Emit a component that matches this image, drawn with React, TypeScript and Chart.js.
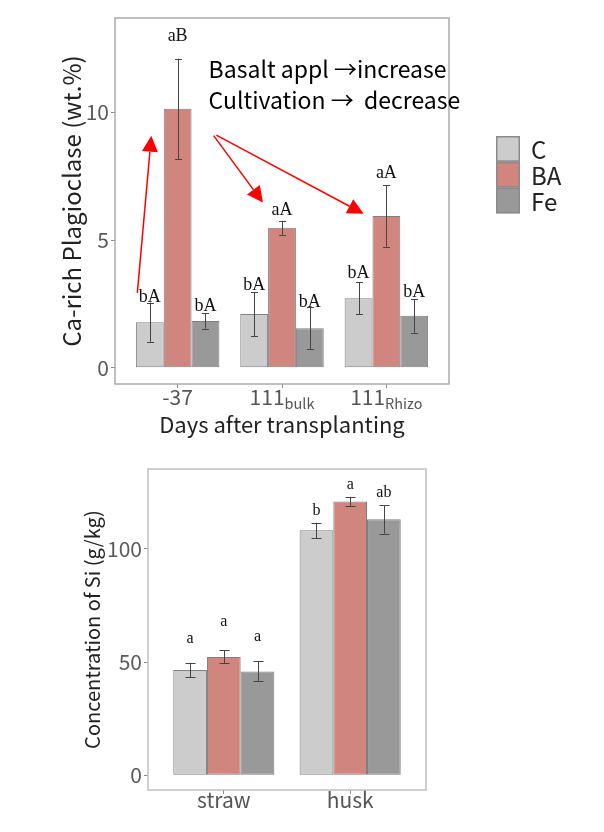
import { useEffect, useRef } from 'react';
import { Chart, registerables } from 'chart.js';
Chart.register(...registerables);

// ---------- shared series ----------
const seriesNames = ['C', 'BA', 'Fe'];
const seriesColors = ['#cccccc', '#d0857f', '#999999'];

// ---------- top chart: Ca-rich plagioclase ----------
const dayLabels = ['-37', '111', '111'];
const daySubs = ['', 'bulk', 'Rhizo'];
const plagC = [1.78, 2.1, 2.72];
const plagBA = [10.14, 5.48, 5.94];
const plagFe = [1.83, 1.54, 2.03];
const plagSeC = [0.77, 0.87, 0.63];
const plagSeBA = [1.97, 0.27, 1.2];
const plagSeFe = [0.3, 0.82, 0.66];
const plagLetC = ['bA', 'bA', 'bA'];
const plagLetBA = ['aB', 'aA', 'aA'];
const plagLetFe = ['bA', 'bA', 'bA'];
const plagLetYC = [2.77, 3.24, 3.7];
const plagLetYBA = [13.0, 6.18, 7.62];
const plagLetYFe = [2.39, 2.56, 2.94];
const plagTicks = [0, 5, 10];

// annotation arrows (data units)
const arrowFromX = [0.614, 1.345, 1.371];
const arrowFromY = [2.93, 9.09, 9.11];
const arrowToX = [0.748, 1.817, 2.782];
const arrowToY = [9.09, 6.47, 6.03];
const noteLines = ['Basalt appl \u2192increase', 'Cultivation \u2192  decrease'];
const noteX = 1.297;
const noteY = [11.71, 10.47];

// ---------- bottom chart: Si concentration ----------
const partLabels = ['straw', 'husk'];
const siC = [46.5, 108.2];
const siBA = [52.3, 120.9];
const siFe = [45.9, 113.1];
const siSeC = [3.2, 3.4];
const siSeBA = [2.9, 2.1];
const siSeFe = [4.4, 6.3];
const siLetC = ['a', 'b'];
const siLetBA = ['a', 'a'];
const siLetFe = ['a', 'ab'];
const siLetYC = [60.5, 116.7];
const siLetYBA = [67.8, 128.5];
const siLetYFe = [61.2, 124.8];
const siTicks = [0, 50, 100];

const JP = "'Noto Sans CJK JP', 'Noto Sans', sans-serif";
const SERIF = "'Liberation Serif', 'DejaVu Serif', serif";

type Spec = {
  labels: string[];
  subs: string[];
  series: number[][];
  ses: number[][];
  letters: string[][];
  letterY: number[][];
  ticks: number[];
  yMin: number;
  yMax: number;
  yAxisWidth: number;
  xAxisHeight: number;
  padding: { left: number; right: number; top: number; bottom: number };
  yTitle: string;
  yTitleSize: number;
  yTitlePad: number;
  xTitle?: string;
  xTitleSize?: number;
  xTitlePad?: number;
  tickSize: number;
  xLabelSize: number;
  xLabelBase: number;
  subSize: number;
  letterSize: number;
  capWidth: number;
  frameColor: string;
  legend?: boolean;
  notes?: boolean;
};

function makeConfig(s: Spec): any {
  const n = s.labels.length;
  const datasets = s.series.map((vals, di) => ({
    label: seriesNames[di],
    data: vals.map((v, i) => ({ x: i + 1, y: v })),
    backgroundColor: seriesColors[di],
    borderColor: '#7f7f7f',
    borderWidth: 1,
    borderSkipped: false,
    categoryPercentage: 0.8,
    barPercentage: 1.0,
  }));

  const decor = {
    id: 'decor',
    afterDatasetsDraw(chart: any) {
      const ctx = chart.ctx as CanvasRenderingContext2D;
      const ys = chart.scales.y;
      const xs = chart.scales.x;
      const area = chart.chartArea;
      ctx.save();
      // error bars
      ctx.strokeStyle = '#444444';
      ctx.lineWidth = 1;
      chart.data.datasets.forEach((ds: any, di: number) => {
        const meta = chart.getDatasetMeta(di);
        meta.data.forEach((bar: any, i: number) => {
          const v = ds.data[i].y;
          const e = s.ses[di][i];
          const x = Math.round(bar.x) + 0.5;
          const y1 = ys.getPixelForValue(v + e);
          const y2 = ys.getPixelForValue(v - e);
          ctx.beginPath();
          ctx.moveTo(x, y1);
          ctx.lineTo(x, y2);
          ctx.moveTo(x - s.capWidth / 2, Math.round(y1) + 0.5);
          ctx.lineTo(x + s.capWidth / 2, Math.round(y1) + 0.5);
          ctx.moveTo(x - s.capWidth / 2, Math.round(y2) + 0.5);
          ctx.lineTo(x + s.capWidth / 2, Math.round(y2) + 0.5);
          ctx.stroke();
        });
      });
      // significance letters
      ctx.fillStyle = '#111';
      ctx.font = `${s.letterSize}px ${SERIF}`;
      ctx.textAlign = 'center';
      ctx.textBaseline = 'middle';
      chart.data.datasets.forEach((_ds: any, di: number) => {
        const meta = chart.getDatasetMeta(di);
        meta.data.forEach((bar: any, i: number) => {
          ctx.fillText(s.letters[di][i], bar.x, ys.getPixelForValue(s.letterY[di][i]));
        });
      });
      // frame
      ctx.strokeStyle = s.frameColor;
      ctx.lineWidth = 1.5;
      ctx.strokeRect(area.left, area.top, area.right - area.left, area.bottom - area.top);
      // x labels with subscripts
      ctx.fillStyle = '#555';
      ctx.textAlign = 'left';
      ctx.textBaseline = 'alphabetic';
      for (let i = 0; i < n; i++) {
        const cx = xs.getPixelForValue(i + 1);
        ctx.font = `${s.xLabelSize}px ${JP}`;
        const w1 = ctx.measureText(s.labels[i]).width;
        ctx.font = `${s.subSize}px ${JP}`;
        const w2 = s.subs[i] ? ctx.measureText(s.subs[i]).width : 0;
        const x0 = cx - (w1 + w2) / 2;
        const base = area.bottom + s.xLabelBase;
        ctx.font = `${s.xLabelSize}px ${JP}`;
        ctx.fillText(s.labels[i], x0, base);
        if (s.subs[i]) {
          ctx.font = `${s.subSize}px ${JP}`;
          ctx.fillText(s.subs[i], x0 + w1, base + 4);
        }
      }
      // annotations
      if (s.notes) {
        ctx.strokeStyle = '#ff0000';
        ctx.fillStyle = '#ff0000';
        ctx.lineWidth = 1.5;
        for (let k = 0; k < arrowFromX.length; k++) {
          const x0 = xs.getPixelForValue(arrowFromX[k]);
          const y0 = ys.getPixelForValue(arrowFromY[k]);
          const x1 = xs.getPixelForValue(arrowToX[k]);
          const y1 = ys.getPixelForValue(arrowToY[k]);
          const ang = Math.atan2(y1 - y0, x1 - x0);
          const hl = 16, hw = 8;
          const bx = x1 - hl * Math.cos(ang);
          const by = y1 - hl * Math.sin(ang);
          ctx.beginPath();
          ctx.moveTo(x0, y0);
          ctx.lineTo(bx, by);
          ctx.stroke();
          ctx.beginPath();
          ctx.moveTo(x1, y1);
          ctx.lineTo(bx + hw * Math.sin(ang), by - hw * Math.cos(ang));
          ctx.lineTo(bx - hw * Math.sin(ang), by + hw * Math.cos(ang));
          ctx.closePath();
          ctx.fill();
        }
        ctx.fillStyle = '#000';
        ctx.font = `23px ${JP}`;
        ctx.textAlign = 'left';
        ctx.textBaseline = 'middle';
        noteLines.forEach((t, k) => {
          ctx.fillText(t, xs.getPixelForValue(noteX), ys.getPixelForValue(noteY[k]));
        });
      }
      // legend
      if (s.legend) {
        const lx = area.right + 47;
        const ly = 136;
        const sh = 25.8;
        seriesNames.forEach((name, k) => {
          ctx.fillStyle = seriesColors[k];
          ctx.fillRect(lx, ly + k * sh, 24, sh);
          ctx.strokeStyle = '#8a8a8a';
          ctx.lineWidth = 1.5;
          ctx.strokeRect(lx + 0.75, ly + k * sh + 0.75, 22.5, sh - 1.5);
          ctx.fillStyle = '#222';
          ctx.font = `24px ${JP}`;
          ctx.textAlign = 'left';
          ctx.textBaseline = 'middle';
          ctx.fillText(name, lx + 35, ly + k * sh + sh / 2 + 1);
        });
      }
      ctx.restore();
    },
  };

  return {
    type: 'bar',
    data: { datasets },
    plugins: [decor],
    options: {
      animation: false,
      responsive: false,
      layout: { padding: s.padding },
      plugins: { legend: { display: false }, tooltip: { enabled: false } },
      scales: {
        x: {
          type: 'linear',
          min: 0.4,
          max: n + 0.6,
          offset: false,
          grid: { display: true, offset: false, drawOnChartArea: false, drawTicks: true, tickLength: 4, color: '#888' },
          border: { display: false },
          afterBuildTicks: (sc: any) => {
            sc.ticks = s.labels.map((_l, i) => ({ value: i + 1 }));
          },
          afterFit: (sc: any) => {
            sc.height = s.xAxisHeight;
          },
          ticks: { callback: () => '', padding: 0 },
          title: s.xTitle
            ? {
                display: true,
                text: s.xTitle,
                color: '#222',
                font: { family: JP, size: s.xTitleSize },
                padding: { top: 0, bottom: s.xTitlePad },
              }
            : { display: false },
        },
        y: {
          type: 'linear',
          min: s.yMin,
          max: s.yMax,
          grid: { display: true, drawOnChartArea: false, drawTicks: true, tickLength: 4, color: '#888' },
          border: { display: false },
          afterBuildTicks: (sc: any) => {
            sc.ticks = s.ticks.map((v) => ({ value: v }));
          },
          afterFit: (sc: any) => {
            sc.width = s.yAxisWidth;
          },
          ticks: {
            padding: 2,
            color: '#5a5a5a',
            font: { family: JP, size: s.tickSize },
            callback: (v: any) => String(v),
          },
          title: {
            display: true,
            text: s.yTitle,
            color: '#222',
            font: { family: JP, size: s.yTitleSize },
            padding: { top: s.yTitlePad, bottom: 0 },
          },
        },
      },
    },
  };
}

const topSpec: Spec = {
  labels: dayLabels,
  subs: daySubs,
  series: [plagC, plagBA, plagFe],
  ses: [plagSeC, plagSeBA, plagSeFe],
  letters: [plagLetC, plagLetBA, plagLetFe],
  letterY: [plagLetYC, plagLetYBA, plagLetYFe],
  ticks: plagTicks,
  yMin: -0.64,
  yMax: 13.7,
  yAxisWidth: 115,
  xAxisHeight: 66,
  padding: { left: 0, right: 155, top: 18, bottom: 0 },
  yTitle: 'Ca-rich Plagioclase (wt.%)',
  yTitleSize: 24,
  yTitlePad: 57,
  xTitle: 'Days after transplanting',
  xTitleSize: 22,
  xTitlePad: 12,
  tickSize: 21,
  xLabelSize: 21,
  xLabelBase: 21,
  subSize: 14.5,
  letterSize: 18,
  capWidth: 7,
  frameColor: '#aaaaaa',
  legend: true,
  notes: true,
};

const botSpec: Spec = {
  labels: partLabels,
  subs: ['', ''],
  series: [siC, siBA, siFe],
  ses: [siSeC, siSeBA, siSeFe],
  letters: [siLetC, siLetBA, siLetFe],
  letterY: [siLetYC, siLetYBA, siLetYFe],
  ticks: siTicks,
  yMin: -6.5,
  yMax: 135.3,
  yAxisWidth: 148,
  xAxisHeight: 42,
  padding: { left: 0, right: 178, top: 19, bottom: 0 },
  yTitle: 'Concentration of Si (g/kg)',
  yTitleSize: 20,
  yTitlePad: 80,
  tickSize: 21,
  xLabelSize: 21,
  xLabelBase: 18,
  subSize: 13,
  letterSize: 16,
  capWidth: 10,
  frameColor: '#c0c0c0',
};

export default function App() {
  const topRef = useRef<HTMLCanvasElement>(null);
  const botRef = useRef<HTMLCanvasElement>(null);
  useEffect(() => {
    const c1 = new Chart(topRef.current!, makeConfig(topSpec));
    const c2 = new Chart(botRef.current!, makeConfig(botSpec));
    return () => {
      c1.destroy();
      c2.destroy();
    };
  }, []);
  return (
    <div style={{ position: 'absolute', left: 0, top: 0, width: 604, height: 832, background: '#fff' }}>
      <canvas ref={topRef} width={604} height={450} style={{ position: 'absolute', left: 0, top: 0 }} />
      <canvas ref={botRef} width={604} height={382} style={{ position: 'absolute', left: 0, top: 450 }} />
    </div>
  );
}
